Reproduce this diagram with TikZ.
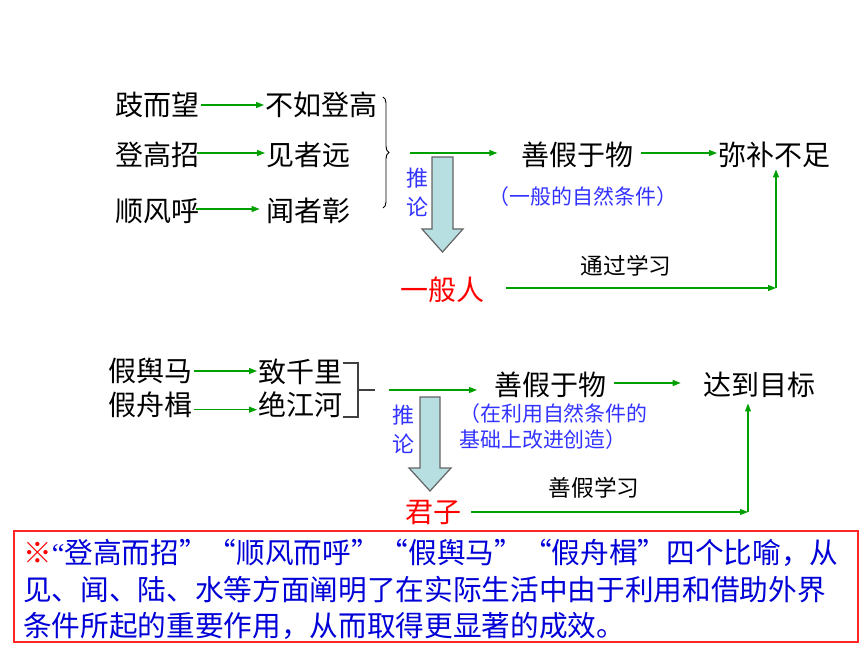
\documentclass[tikz,border=0pt]{standalone}
\usepackage{fontspec}
\newfontfamily\cjk{Noto Sans CJK SC}
\newfontfamily\latn{Liberation Serif}
\usetikzlibrary{arrows.meta,decorations.pathreplacing}
\definecolor{arrgreen}{RGB}{0,160,0}
\definecolor{capblue}{RGB}{51,51,255}
\definecolor{noteblue}{RGB}{0,0,215}
\definecolor{redtxt}{RGB}{255,0,0}
\definecolor{blkfill}{RGB}{183,222,224}
\definecolor{blkedge}{RGB}{100,100,100}
\tikzset{
  maintxt/.style={font=\cjk\fontsize{21}{25}\selectfont, inner sep=1pt, anchor=west},
  captxt/.style={font=\cjk\fontsize{15.7}{18}\selectfont, text=capblue, inner sep=0pt},
  labtxt/.style={font=\cjk\fontsize{17}{20}\selectfont, inner sep=0pt},
  tuilun/.style={font=\cjk\fontsize{16.5}{21.75}\selectfont, text=capblue, align=center, inner sep=0pt},
  garrow/.style={draw=arrgreen, line width=0.8pt, -{Triangle[length=6pt,width=4.5pt]}},
  blockarrow/.style={draw=blkedge, fill=blkfill, line width=0.9pt, line join=miter},
  notetxt/.style={font=\cjk\fontsize{21.5}{27.4}\selectfont, text=noteblue, align=left, inner sep=0pt, anchor=west}
}
\begin{document}
\begin{tikzpicture}[x=0.75pt,y=-0.75pt]
\useasboundingbox (0,0) rectangle (860,645);

% ---------- section 1 ----------
\node[maintxt] (t1a) at (114,105) {跂而望};
\node[maintxt] (t1b) at (264,105) {不如登高};
\node[maintxt] (t2a) at (114,155) {登高招};
\node[maintxt] (t2b) at (265,155) {见者远};
\node[maintxt] (t3a) at (114,211) {顺风呼};
\node[maintxt] (t3b) at (265,211) {闻者彰};
\draw[garrow] (t1a.east) -- (t1b.west);
\draw[garrow] ([xshift=-3pt,yshift=1.5pt]t2a.east) -- ([yshift=1.5pt]t2b.west);
\draw[garrow] ([xshift=-4pt,yshift=1.5pt]t3a.east) -- ([xshift=-4pt,yshift=1.5pt]t3b.west);

\draw[line width=0.7pt, decorate, decoration={brace, amplitude=4.5pt}] (383,97) -- (383,208);
\coordinate (s1) at (410,153);

\node[maintxt] (shan1) at (520,155) {善假于物};
\node[maintxt] (mibu) at (717,155) {弥补不足};
\draw[garrow, shorten >=17pt] (s1) -- (s1 -| shan1.west);
\draw[garrow, shorten <=4pt] ([yshift=1.5pt]shan1.east) -- ([yshift=1.5pt]mibu.west);
\node[captxt] (cap1) at (583,197) {（一般的自然条件）};

\node[tuilun] (tl1) at (417,192) {推\\论};
\draw[blockarrow] (432,157) -- (453,157) -- (453,229) -- (463,229) -- (442.5,252) -- (422,229) -- (432,229) -- cycle;

\node[maintxt, text=redtxt] (yiban) at (399,290) {一般人};
\coordinate (c1) at (776,288);
\draw[garrow, shorten <=15pt] (yiban.east |- c1) -- (c1);
\draw[garrow] (c1) -- (c1 |- mibu.south);
\node[labtxt] (lab1) at (626,266) {通过学习};

% ---------- section 2 ----------
\node[maintxt] (j1a) at (107,371) {假舆马};
\node[maintxt] (j1b) at (257,372) {致千里};
\node[maintxt] (j2a) at (107,405) {假舟楫};
\node[maintxt] (j2b) at (257,405) {绝江河};
\draw[garrow] ([yshift=0pt]j1a.east) -- (j1a.east -| j1b.west);
\draw[garrow] ([yshift=-3.5pt]j2a.east) -- ([yshift=-3.5pt]j2a.east -| j2b.west);

\draw[line width=0.9pt, draw=black!75] (343,363) -- (358,363) -- (358,417) -- (343,417);
\coordinate (br) at (375,390);
\draw[line width=0.9pt, draw=black!75] (358,390) -- (br);
\coordinate (s2) at (389,390);

\node[maintxt] (shan2) at (493,385) {善假于物};
\node[maintxt] (mubiao) at (702,385) {达到目标};
\draw[garrow, shorten >=12pt] (s2) -- (s2 -| shan2.west);
\draw[garrow, shorten <=4pt, shorten >=16pt] ([yshift=1.5pt]shan2.east) -- ([yshift=1.5pt]mubiao.west);
\node[captxt, anchor=west] (cap2a) at (459,414) {（在利用自然条件的};
\node[captxt, anchor=west] (cap2b) at (459,440) {基础上改进创造）};

\node[tuilun] (tl2) at (403,429) {推\\论};
\draw[blockarrow] (420,397) -- (440,397) -- (440,468) -- (451,468) -- (430,491) -- (409,468) -- (420,468) -- cycle;

\node[maintxt, text=redtxt] (junzi) at (404,513) {君子};
\coordinate (c2) at (748,512);
\draw[garrow, shorten <=6pt] (junzi.east |- c2) -- (c2);
\draw[garrow, shorten >=3pt] (c2) -- (c2 |- mubiao.south);
\node[labtxt] (lab2) at (594,488) {善假学习};

% ---------- note box ----------
\draw[draw=redtxt!85, line width=0.8pt] (14,531) rectangle (858,642);
\node[notetxt] (n1) at (23,553) {\textcolor{redtxt}{※}{\latn “}登高而招”“顺风而呼”“假舆马”“假舟楫”四个比喻，从};
\node[notetxt] (n2) at (23,590) {见、闻、陆、水等方面阐明了在实际生活中由于利用和借助外界};
\node[notetxt] (n3) at (23,626) {条件所起的重要作用，从而取得更显著的成效。};
\end{tikzpicture}
\end{document}
